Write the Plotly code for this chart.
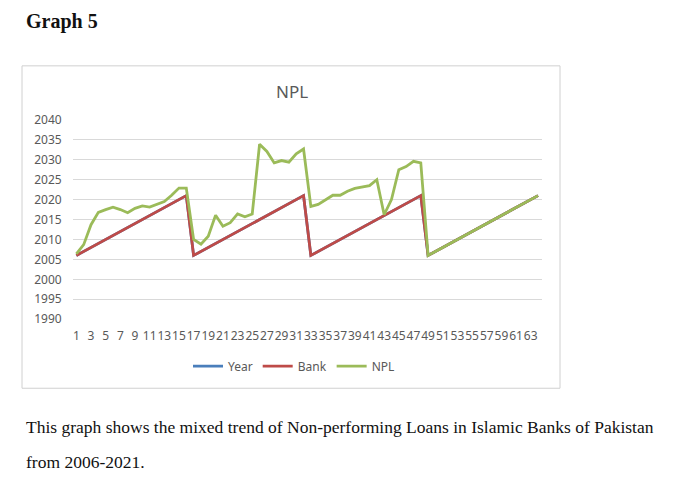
import plotly.graph_objects as go

# ---- data ----
obs = [1, 2, 3, 4, 5, 6, 7, 8, 9, 10, 11, 12, 13, 14, 15, 16,
       17, 18, 19, 20, 21, 22, 23, 24, 25, 26, 27, 28, 29, 30, 31, 32,
       33, 34, 35, 36, 37, 38, 39, 40, 41, 42, 43, 44, 45, 46, 47, 48,
       49, 50, 51, 52, 53, 54, 55, 56, 57, 58, 59, 60, 61, 62, 63, 64]

year = [2006, 2007, 2008, 2009, 2010, 2011, 2012, 2013, 2014, 2015, 2016, 2017, 2018, 2019, 2020, 2021,
        2006, 2007, 2008, 2009, 2010, 2011, 2012, 2013, 2014, 2015, 2016, 2017, 2018, 2019, 2020, 2021,
        2006, 2007, 2008, 2009, 2010, 2011, 2012, 2013, 2014, 2015, 2016, 2017, 2018, 2019, 2020, 2021,
        2006, 2007, 2008, 2009, 2010, 2011, 2012, 2013, 2014, 2015, 2016, 2017, 2018, 2019, 2020, 2021]

bank = [2006, 2007, 2008, 2009, 2010, 2011, 2012, 2013, 2014, 2015, 2016, 2017, 2018, 2019, 2020, 2021,
        2006, 2007, 2008, 2009, 2010, 2011, 2012, 2013, 2014, 2015, 2016, 2017, 2018, 2019, 2020, 2021,
        2006, 2007, 2008, 2009, 2010, 2011, 2012, 2013, 2014, 2015, 2016, 2017, 2018, 2019, 2020, 2021,
        2006, 2007, 2008, 2009, 2010, 2011, 2012, 2013, 2014, 2015, 2016, 2017, 2018, 2019, 2020, 2021]

npl = [2006.4, 2008.7, 2013.7, 2016.8, 2017.5, 2018.1, 2017.5, 2016.7,
       2017.8, 2018.4, 2018.1, 2018.9, 2019.5, 2021.1, 2022.9, 2022.9,
       2010.0, 2008.8, 2010.8, 2016.1, 2013.3, 2014.2, 2016.4, 2015.7,
       2016.4, 2033.9, 2032.1, 2029.2, 2029.8, 2029.4, 2031.5, 2032.7,
       2018.3, 2018.8, 2020.0, 2021.1, 2021.1, 2022.1, 2022.8, 2023.2,
       2023.5, 2025.0, 2016.2, 2020.0, 2027.5, 2028.3, 2029.6, 2029.2,
       2006, 2007, 2008, 2009, 2010, 2011, 2012, 2013,
       2014, 2015, 2016, 2017, 2018, 2019, 2020, 2021]

tick_vals = [1, 3, 5, 7, 9, 11, 13, 15, 17, 19, 21, 23, 25, 27, 29, 31,
             33, 35, 37, 39, 41, 43, 45, 47, 49, 51, 53, 55, 57, 59, 61, 63]
tick_text = [str(v) for v in tick_vals]

chart_title = "NPL"
heading = "Graph 5"
caption1 = "This graph shows the mixed trend of Non-performing Loans in Islamic Banks of Pakistan"
caption2 = "from 2006-2021."

# figure placement in the window (page body margin) and observed vertical mapping
OFF = 8
W, H = 680 - OFF, 482 - OFF
Y0, KY = 17.2, 0.963
def px(x): return (x - OFF) / W
def py(y): return 1 - ((y - Y0) / KY) / H

fig = go.Figure()
fig.add_trace(go.Scatter(x=obs, y=year, name="Year", mode="lines",
                         line=dict(color="#4a7ebb", width=2.8)))
fig.add_trace(go.Scatter(x=obs, y=bank, name="Bank", mode="lines",
                         line=dict(color="#be4b48", width=2.8)))
fig.add_trace(go.Scatter(x=obs, y=npl, name="NPL", mode="lines",
                         line=dict(color="#9bbb59", width=2.8)))

grey = "#595959"
serif = "Liberation Serif, Times New Roman, serif"
fig.update_layout(
    width=W, height=H,
    margin=dict(l=0, r=0, t=0, b=0),
    paper_bgcolor="white", plot_bgcolor="white",
    font=dict(family="Noto Sans, Open Sans, sans-serif", color=grey),
    showlegend=True,
    legend=dict(orientation="h", x=px(294), xanchor="center", y=py(366), yanchor="middle",
                font=dict(size=12, color=grey), itemwidth=30, tracegroupgap=0,
                bgcolor="rgba(0,0,0,0)"),
    xaxis=dict(domain=[px(72.7), px(541.7)], range=[0.5, 64.5],
               tickmode="array", tickvals=tick_vals, ticktext=tick_text,
               tickfont=dict(size=12, color=grey), showgrid=False, zeroline=False,
               showline=False, ticks="", ticklen=0, tickangle=0,
               ticklabelstandoff=8),
    yaxis=dict(domain=[py(319), py(120)], range=[1990, 2040], dtick=5, tick0=1990,
               showgrid=True, gridcolor="#d9d9d9", gridwidth=1, zeroline=False,
               showline=False, ticks="", tickfont=dict(size=12, color=grey),
               ticklabelstandoff=10),
    shapes=[dict(type="rect", xref="paper", yref="paper",
                 x0=px(22), x1=px(560), y0=py(388), y1=py(66),
                 line=dict(color="#d0d0d0", width=1), fillcolor="rgba(0,0,0,0)",
                 layer="below")],
    annotations=[
        dict(text=chart_title, xref="paper", yref="paper", x=px(292), y=py(92),
             xanchor="center", yanchor="middle", showarrow=False,
             font=dict(size=17, color=grey)),
        dict(text="<b>" + heading + "</b>", xref="paper", yref="paper", x=px(24), y=py(22),
             xanchor="left", yanchor="middle", showarrow=False,
             font=dict(family=serif, size=20, color="#111")),
        dict(text=caption1, xref="paper", yref="paper", x=px(24), y=py(427),
             xanchor="left", yanchor="middle", showarrow=False,
             font=dict(family=serif, size=17.5, color="#111")),
        dict(text=caption2, xref="paper", yref="paper", x=px(24), y=py(462),
             xanchor="left", yanchor="middle", showarrow=False,
             font=dict(family=serif, size=17.5, color="#111")),
    ],
)

fig.write_html("out.html")
